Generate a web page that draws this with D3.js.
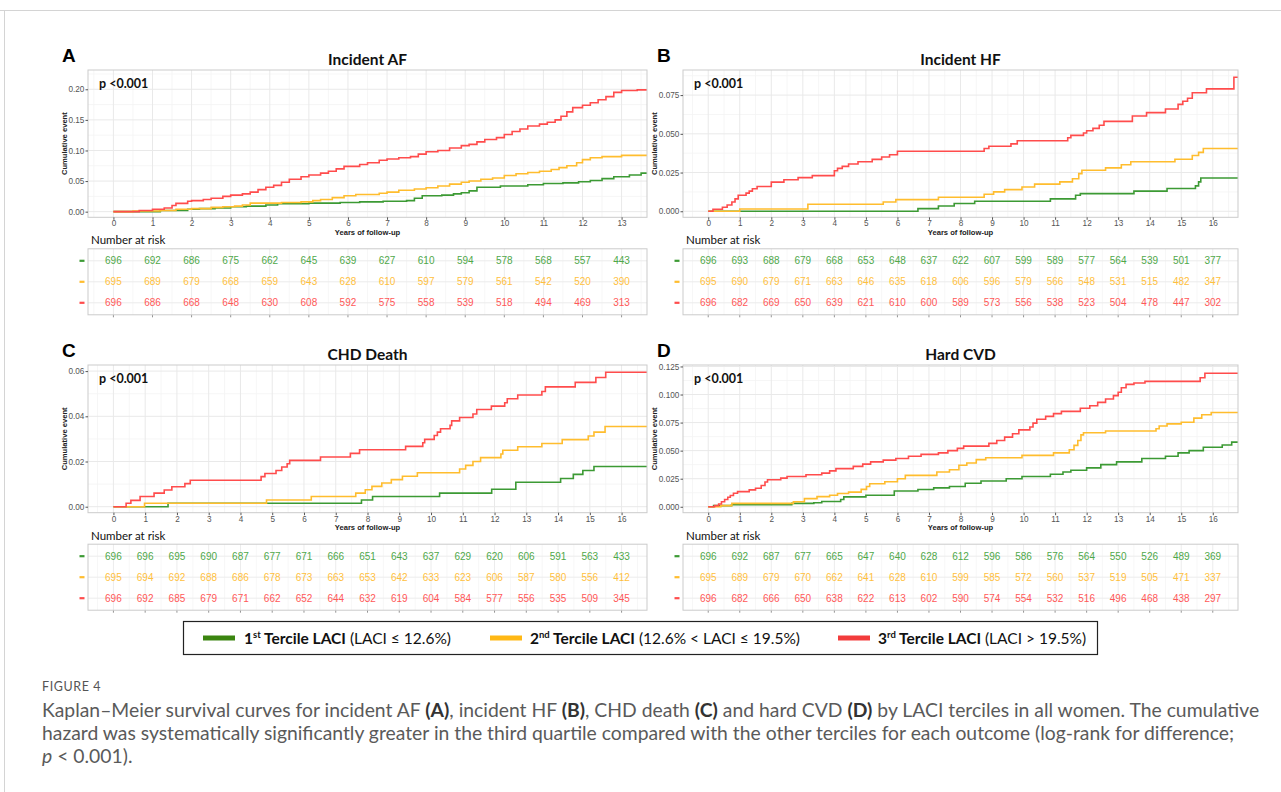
<!DOCTYPE html>
<html>
<head>
<meta charset="utf-8">
<script src="https://cdn.jsdelivr.net/npm/d3@7/dist/d3.min.js"></script>
<style>
body { margin: 0; background: #fff; }
svg { display: block; }
</style>
</head>
<body>
<svg id="fig" width="1281" height="792"></svg>
<script>
// ---- data ----
const ticksAF = [0, 1, 2, 3, 4, 5, 6, 7, 8, 9, 10, 11, 12, 13];
const ticks16 = [0, 1, 2, 3, 4, 5, 6, 7, 8, 9, 10, 11, 12, 13, 14, 15, 16];
const yTicksAF = [0, 0.05, 0.10, 0.15, 0.20];
const yTicksHF = [0, 0.025, 0.05, 0.075];
const yTicksCHD = [0, 0.02, 0.04, 0.06];
const yTicksCVD = [0, 0.025, 0.05, 0.075, 0.10, 0.125];

const terciles = ["1st Tercile LACI", "2nd Tercile LACI", "3rd Tercile LACI"];

// step curves: [time in years, cumulative event after that time]
const afT1 = [[0,0],[1.2,0.002],[1.9,0.004],[2.2,0.005],[2.6,0.006],[3.0,0.008],[3.4,0.009],[3.9,0.011],[4.2,0.013],[5.0,0.014],[5.8,0.015],[6.3,0.016],[6.9,0.017],[7.5,0.018],[7.7,0.022],[7.9,0.026],[8.4,0.027],[8.7,0.029],[8.9,0.031],[9.1,0.034],[9.3,0.04],[9.9,0.042],[10.6,0.044],[11.0,0.046],[11.5,0.047],[11.9,0.049],[12.2,0.051],[12.5,0.054],[12.8,0.057],[13.2,0.06],[13.5,0.063],[14,0.063]];
const afT2 = [[0,0],[0.5,0.001],[1.2,0.002],[1.6,0.004],[2.0,0.005],[2.5,0.007],[2.8,0.008],[3.1,0.009],[3.3,0.011],[3.5,0.014],[4.3,0.015],[4.8,0.016],[5.1,0.018],[5.3,0.02],[5.6,0.023],[5.9,0.026],[6.2,0.028],[6.8,0.03],[7.0,0.032],[7.3,0.035],[7.7,0.037],[8.0,0.039],[8.3,0.042],[8.6,0.045],[8.9,0.048],[9.1,0.05],[9.4,0.053],[9.7,0.055],[10.0,0.059],[10.3,0.062],[10.6,0.064],[10.9,0.066],[11.2,0.069],[11.4,0.072],[11.6,0.075],[11.85,0.08],[12.0,0.085],[12.2,0.088],[12.5,0.09],[13.0,0.092],[14,0.092]];
const afT3 = [[0,0],[0.66,0.002],[1.0,0.004],[1.3,0.006],[1.5,0.01],[1.6,0.0136],[1.9,0.017],[2.0,0.018],[2.3,0.02],[2.5,0.022],[2.8,0.025],[3.0,0.027],[3.3,0.029],[3.5,0.032],[3.7,0.036],[3.9,0.04],[4.1,0.043],[4.3,0.048],[4.5,0.053],[4.8,0.057],[5.0,0.06],[5.3,0.063],[5.5,0.066],[5.7,0.07],[5.9,0.074],[6.3,0.077],[6.5,0.08],[6.8,0.084],[7.0,0.086],[7.3,0.088],[7.6,0.09],[7.8,0.094],[8.0,0.098],[8.3,0.1],[8.6,0.104],[8.9,0.108],[9.1,0.11],[9.3,0.114],[9.5,0.118],[9.8,0.121],[10.0,0.126],[10.2,0.131],[10.4,0.135],[10.6,0.14],[10.9,0.143],[11.1,0.146],[11.3,0.15],[11.45,0.156],[11.6,0.163],[11.75,0.17],[12.0,0.174],[12.2,0.178],[12.4,0.183],[12.6,0.188],[12.8,0.195],[13.0,0.198],[13.4,0.199],[14,0.199]];

const hfT1 = [[0,0],[6.65,0.0017],[7.3,0.0034],[7.8,0.005],[8.45,0.0065],[10.85,0.008],[11.65,0.0103],[11.8,0.0114],[13.5,0.013],[14.55,0.0147],[15.45,0.0164],[15.55,0.019],[15.62,0.0215],[17,0.0215]];
const hfT2 = [[0,0],[1.0,0.0015],[3.16,0.0045],[5.55,0.006],[5.95,0.0075],[7.3,0.009],[8.75,0.011],[9.05,0.0125],[9.4,0.014],[9.95,0.0157],[10.35,0.0175],[11.15,0.019],[11.55,0.021],[11.75,0.0243],[11.85,0.0265],[12.6,0.028],[13.1,0.03],[13.4,0.032],[14.8,0.0336],[15.35,0.036],[15.55,0.038],[15.7,0.0405],[17,0.0405]];
const hfT3 = [[0,0],[0.15,0.0013],[0.45,0.0026],[0.6,0.004],[0.75,0.006],[0.85,0.008],[0.95,0.0103],[1.2,0.0117],[1.3,0.013],[1.4,0.0145],[1.55,0.016],[2.0,0.0188],[2.4,0.0203],[2.85,0.0217],[3.3,0.023],[4.0,0.0262],[4.1,0.0277],[4.25,0.029],[4.45,0.0305],[4.75,0.032],[5.2,0.0335],[5.5,0.035],[5.75,0.0365],[6.0,0.0387],[8.75,0.0405],[8.9,0.042],[9.6,0.0435],[9.8,0.0455],[11.4,0.0475],[11.5,0.049],[11.9,0.0505],[12.0,0.052],[12.2,0.0535],[12.4,0.0555],[12.55,0.058],[13.45,0.0615],[13.9,0.0637],[14.5,0.066],[14.9,0.069],[15.05,0.071],[15.2,0.073],[15.35,0.0765],[15.8,0.079],[16.67,0.0865],[17,0.0865]];

const chdT1 = [[0,0],[1.72,0.0015],[7.81,0.003],[8.16,0.0045],[10.27,0.006],[11.91,0.0077],[12.67,0.0108],[14.08,0.0125],[14.48,0.0143],[14.78,0.016],[15.13,0.0178],[17,0.0178]];
const chdT2 = [[0,0],[0.98,0.0015],[4.82,0.003],[6.23,0.0045],[7.63,0.006],[7.93,0.0075],[8.14,0.009],[8.45,0.0105],[8.75,0.012],[9.1,0.0135],[9.57,0.015],[10.9,0.0167],[11.09,0.0183],[11.32,0.02],[11.56,0.0217],[12.2,0.0233],[12.26,0.025],[12.73,0.0265],[13.49,0.028],[14.13,0.0297],[14.95,0.0313],[15.13,0.033],[15.48,0.0355],[17,0.0355]];
const chdT3 = [[0,0],[0.4,0.0015],[0.55,0.0028],[0.84,0.0045],[1.28,0.006],[1.6,0.0074],[1.84,0.0088],[2.25,0.0102],[2.42,0.0117],[4.65,0.0133],[4.77,0.0147],[5.12,0.016],[5.3,0.0176],[5.47,0.019],[5.55,0.0205],[6.52,0.022],[7.46,0.0236],[7.75,0.0252],[9.2,0.0267],[9.74,0.0283],[9.8,0.0298],[10.1,0.0315],[10.2,0.033],[10.3,0.0345],[10.6,0.036],[10.65,0.038],[10.9,0.0395],[11.32,0.041],[11.44,0.043],[11.9,0.0445],[12.32,0.046],[12.4,0.0478],[12.73,0.0494],[13.49,0.051],[13.6,0.053],[14.54,0.055],[15.19,0.0572],[15.5,0.0595],[17,0.0595]];

const cvdT1 = [[0,0],[0.17,0.001],[0.74,0.0018],[2.65,0.003],[3.35,0.0035],[3.6,0.0047],[4.2,0.0065],[4.3,0.0088],[5.0,0.0103],[5.9,0.014],[6.65,0.0154],[7.15,0.0168],[7.65,0.018],[8.15,0.021],[8.65,0.023],[9.45,0.025],[9.95,0.027],[10.85,0.029],[11.25,0.031],[11.5,0.0325],[12.0,0.0346],[12.45,0.0375],[12.95,0.04],[13.75,0.043],[14.5,0.045],[14.9,0.048],[15.25,0.05],[15.7,0.053],[16.3,0.055],[16.6,0.0576],[17,0.0576]];
const cvdT2 = [[0,0],[0.4,0.001],[0.75,0.003],[2.7,0.0045],[3.05,0.0072],[3.45,0.009],[3.85,0.0102],[4.1,0.0118],[4.45,0.013],[4.85,0.0155],[5.02,0.018],[5.12,0.0205],[5.6,0.0223],[6.0,0.025],[6.25,0.028],[7.25,0.031],[7.65,0.033],[7.95,0.037],[8.2,0.039],[8.5,0.042],[8.8,0.0437],[9.95,0.0458],[10.95,0.048],[11.45,0.0508],[11.6,0.0547],[11.72,0.059],[11.82,0.064],[11.9,0.066],[12.6,0.0675],[14.2,0.0695],[14.3,0.072],[14.55,0.0738],[15.0,0.0753],[15.4,0.079],[15.65,0.082],[15.95,0.084],[17,0.084]];
const cvdT3 = [[0,0],[0.2,0.001],[0.33,0.0025],[0.42,0.0045],[0.52,0.0065],[0.62,0.0085],[0.7,0.01],[0.8,0.012],[0.93,0.0135],[1.3,0.015],[1.5,0.0165],[1.68,0.019],[1.8,0.022],[1.88,0.024],[2.3,0.0255],[2.5,0.027],[3.1,0.0285],[3.6,0.03],[3.85,0.032],[4.05,0.034],[4.6,0.036],[4.9,0.038],[5.15,0.04],[5.55,0.0415],[5.95,0.043],[6.35,0.045],[6.75,0.0467],[7.3,0.048],[7.6,0.05],[7.9,0.052],[8.1,0.054],[8.9,0.0565],[9.15,0.059],[9.4,0.062],[9.65,0.065],[9.85,0.0685],[10.2,0.071],[10.3,0.0745],[10.42,0.078],[10.7,0.0805],[10.95,0.083],[11.2,0.085],[11.8,0.0878],[12.1,0.09],[12.35,0.093],[12.6,0.096],[12.85,0.099],[13.0,0.102],[13.1,0.106],[13.25,0.109],[13.5,0.1103],[13.85,0.1117],[15.6,0.115],[15.75,0.119],[17,0.119]];

// number at risk, one value per x tick
const afRisk1 = [696, 692, 686, 675, 662, 645, 639, 627, 610, 594, 578, 568, 557, 443];
const afRisk2 = [695, 689, 679, 668, 659, 643, 628, 610, 597, 579, 561, 542, 520, 390];
const afRisk3 = [696, 686, 668, 648, 630, 608, 592, 575, 558, 539, 518, 494, 469, 313];
const hfRisk1 = [696, 693, 688, 679, 668, 653, 648, 637, 622, 607, 599, 589, 577, 564, 539, 501, 377];
const hfRisk2 = [695, 690, 679, 671, 663, 646, 635, 618, 606, 596, 579, 566, 548, 531, 515, 482, 347];
const hfRisk3 = [696, 682, 669, 650, 639, 621, 610, 600, 589, 573, 556, 538, 523, 504, 478, 447, 302];
const chdRisk1 = [696, 696, 695, 690, 687, 677, 671, 666, 651, 643, 637, 629, 620, 606, 591, 563, 433];
const chdRisk2 = [695, 694, 692, 688, 686, 678, 673, 663, 653, 642, 633, 623, 606, 587, 580, 556, 412];
const chdRisk3 = [696, 692, 685, 679, 671, 662, 652, 644, 632, 619, 604, 584, 577, 556, 535, 509, 345];
const cvdRisk1 = [696, 692, 687, 677, 665, 647, 640, 628, 612, 596, 586, 576, 564, 550, 526, 489, 369];
const cvdRisk2 = [695, 689, 679, 670, 662, 641, 628, 610, 599, 585, 572, 560, 537, 519, 505, 471, 337];
const cvdRisk3 = [696, 682, 666, 650, 638, 622, 613, 602, 590, 574, 554, 532, 516, 496, 468, 438, 297];

// ---- styles ----
const lineColors = ["#3c9a34", "#ffbd2e", "#ff4c4c"];
const textColors = ["#4fa84a", "#ffbf3d", "#ff5858"];
const swatchColors = ["#3b8510", "#ffb814", "#f23c3c"];
const arial = "'Liberation Sans', Arial, sans-serif";
const calibri = "Lato, 'Open Sans', sans-serif";

const svg = d3.select("#fig");

// outer frame of the figure page
svg.append("line").attr("x1", 0).attr("x2", 1281).attr("y1", 10.5).attr("y2", 10.5)
  .attr("stroke", "#d4d4d4");
svg.append("line").attr("x1", 4.5).attr("x2", 4.5).attr("y1", 10).attr("y2", 792)
  .attr("stroke", "#d4d4d4");

const panels = [
  {letter: "A", title: "Incident AF", left: 88, right: 647, top: 70, bottom: 217.3, yTitle: 24,
   xDomain: [-0.65, 13.65], xTicks: ticksAF, yDomain: [-0.0092, 0.2315], yTicks: yTicksAF, fmt: ".2f",
   curves: [afT1, afT2, afT3], risk: [afRisk1, afRisk2, afRisk3]},
  {letter: "B", title: "Incident HF", left: 683, right: 1238, top: 70, bottom: 217.3, yTitle: 29,
   xDomain: [-0.8, 16.8], xTicks: ticks16, yDomain: [-0.0039, 0.0912], yTicks: yTicksHF, fmt: ".3f",
   curves: [hfT1, hfT2, hfT3], risk: [hfRisk1, hfRisk2, hfRisk3]},
  {letter: "C", title: "CHD Death", left: 88, right: 647, top: 365, bottom: 512.7, yTitle: 24,
   xDomain: [-0.8, 16.8], xTicks: ticks16, yDomain: [-0.00265, 0.0627], yTicks: yTicksCHD, fmt: ".2f",
   curves: [chdT1, chdT2, chdT3], risk: [chdRisk1, chdRisk2, chdRisk3]},
  {letter: "D", title: "Hard CVD", left: 683, right: 1238, top: 365, bottom: 512.7, yTitle: 29,
   xDomain: [-0.8, 16.8], xTicks: ticks16, yDomain: [-0.0053, 0.1263], yTicks: yTicksCVD, fmt: ".3f",
   curves: [cvdT1, cvdT2, cvdT3], risk: [cvdRisk1, cvdRisk2, cvdRisk3]}
];

function minorOf(ticks, domain) {
  const step = ticks[1] - ticks[0];
  const out = [ticks[0] - step / 2];
  ticks.forEach(t => out.push(t + step / 2));
  return out.filter(v => v > domain[0] && v < domain[1]);
}

panels.forEach((p, pi) => {
  const g = svg.append("g");
  const x = d3.scaleLinear().domain(p.xDomain).range([p.left, p.right]);
  const y = d3.scaleLinear().domain(p.yDomain).range([p.bottom, p.top]);
  const w = p.right - p.left, h = p.bottom - p.top;

  // letter and title
  g.append("text").attr("x", p.left - 26).attr("y", p.top - 8)
    .attr("font-family", arial).attr("font-weight", "bold").attr("font-size", 19)
    .text(p.letter);
  g.append("text").attr("x", (p.left + p.right) / 2).attr("y", p.top - 5)
    .attr("text-anchor", "middle").attr("font-family", calibri).attr("font-weight", "bold")
    .attr("font-size", 15.5).attr("fill", "#111").text(p.title);

  // grid
  g.append("rect").attr("x", p.left).attr("y", p.top).attr("width", w).attr("height", h).attr("fill", "#fff");
  const grid = g.append("g");
  minorOf(p.xTicks, p.xDomain).forEach(v => grid.append("line")
    .attr("x1", x(v)).attr("x2", x(v)).attr("y1", p.top).attr("y2", p.bottom)
    .attr("stroke", "#f4f4f4").attr("stroke-width", 0.8));
  minorOf(p.yTicks, p.yDomain).forEach(v => grid.append("line")
    .attr("x1", p.left).attr("x2", p.right).attr("y1", y(v)).attr("y2", y(v))
    .attr("stroke", "#f4f4f4").attr("stroke-width", 0.8));
  p.xTicks.forEach(v => grid.append("line")
    .attr("x1", x(v)).attr("x2", x(v)).attr("y1", p.top).attr("y2", p.bottom)
    .attr("stroke", "#e9e9e9").attr("stroke-width", 1));
  p.yTicks.forEach(v => grid.append("line")
    .attr("x1", p.left).attr("x2", p.right).attr("y1", y(v)).attr("y2", y(v))
    .attr("stroke", "#e9e9e9").attr("stroke-width", 1));

  // curves
  const clipId = "clip" + pi;
  svg.append("clipPath").attr("id", clipId).append("rect")
    .attr("x", p.left).attr("y", p.top).attr("width", w).attr("height", h);
  const line = d3.line().x(d => x(d[0])).y(d => y(d[1])).curve(d3.curveStepAfter);
  p.curves.forEach((c, i) => {
    g.append("path").datum(c).attr("d", line).attr("fill", "none")
      .attr("stroke", lineColors[i]).attr("stroke-width", 1.6)
      .attr("clip-path", `url(#${clipId})`);
  });

  g.append("rect").attr("x", p.left).attr("y", p.top).attr("width", w).attr("height", h)
    .attr("fill", "none").attr("stroke", "#cbcbcb").attr("stroke-width", 1);

  // axes
  const ax = g.append("g").attr("transform", `translate(0,${p.bottom})`)
    .call(d3.axisBottom(x).tickValues(p.xTicks).tickSize(2.5).tickPadding(0.8).tickFormat(d3.format("d")));
  const ay = g.append("g").attr("transform", `translate(${p.left},0)`)
    .call(d3.axisLeft(y).tickValues(p.yTicks).tickSize(2.5).tickPadding(1.2).tickFormat(d3.format(p.fmt)));
  [ax, ay].forEach(a => {
    a.select(".domain").remove();
    a.selectAll(".tick line").attr("stroke", "#555");
    a.selectAll(".tick text").attr("font-family", arial).attr("font-size", 8.2).attr("fill", "#555");
  });

  g.append("text").attr("x", p.left + 11).attr("y", p.top + 18)
    .attr("font-family", calibri).attr("font-weight", "bold").attr("font-size", 12.5)
    .attr("fill", "#111").text("p <0.001");

  g.append("text").attr("transform", `translate(${p.left - p.yTitle},${(p.top + p.bottom) / 2}) rotate(-90)`)
    .attr("text-anchor", "middle").attr("dy", "0.35em").attr("font-family", arial).attr("font-weight", "bold")
    .attr("font-size", 7.6).attr("fill", "#222").text("Cumulative event");
  g.append("text").attr("x", (p.left + p.right) / 2).attr("y", p.bottom + 17.5)
    .attr("text-anchor", "middle").attr("font-family", arial).attr("font-weight", "bold")
    .attr("font-size", 7.6).attr("fill", "#222").text("Years of follow-up");

  // number at risk table
  const tTop = p.bottom + 31.5, tH = 66;
  const rowY = [tTop + 12, tTop + 33, tTop + 54];
  g.append("text").attr("x", p.left + 3).attr("y", p.bottom + 27)
    .attr("font-family", calibri).attr("font-size", 11.5).attr("fill", "#111").text("Number at risk");
  const tg = g.append("g");
  minorOf(p.xTicks, p.xDomain).forEach(v => tg.append("line")
    .attr("x1", x(v)).attr("x2", x(v)).attr("y1", tTop).attr("y2", tTop + tH)
    .attr("stroke", "#f5f5f5").attr("stroke-width", 0.8));
  p.xTicks.forEach(v => tg.append("line")
    .attr("x1", x(v)).attr("x2", x(v)).attr("y1", tTop).attr("y2", tTop + tH)
    .attr("stroke", "#ececec").attr("stroke-width", 1));
  rowY.forEach(ry => tg.append("line")
    .attr("x1", p.left).attr("x2", p.right).attr("y1", ry).attr("y2", ry)
    .attr("stroke", "#ececec").attr("stroke-width", 1));
  p.xTicks.forEach(v => tg.append("line")
    .attr("x1", x(v)).attr("x2", x(v)).attr("y1", tTop + tH).attr("y2", tTop + tH + 2.5)
    .attr("stroke", "#777").attr("stroke-width", 0.8));
  tg.append("rect").attr("x", p.left).attr("y", tTop).attr("width", w).attr("height", tH)
    .attr("fill", "none").attr("stroke", "#cbcbcb").attr("stroke-width", 1);

  p.risk.forEach((row, i) => {
    g.append("line").attr("x1", p.left - 8.5).attr("x2", p.left - 3.5)
      .attr("y1", rowY[i]).attr("y2", rowY[i])
      .attr("stroke", lineColors[i]).attr("stroke-width", 2.2);
    g.selectAll(null).data(row).join("text")
      .attr("x", (d, j) => x(p.xTicks[j])).attr("y", rowY[i]).attr("dy", "0.36em")
      .attr("text-anchor", "middle").attr("font-family", arial).attr("font-size", 10)
      .attr("fill", textColors[i]).text(d => d);
  });
});

// ---- legend ----
const lg = svg.append("g");
lg.append("rect").attr("x", 183.5).attr("y", 621.5).attr("width", 914).attr("height", 33)
  .attr("fill", "#fff").attr("stroke", "#222").attr("stroke-width", 1.2);
const legendItems = [
  {sw: 203, tx: 244, sup: "st", rest: " (LACI \u2264 12.6%)"},
  {sw: 490, tx: 530, sup: "nd", rest: " (12.6% < LACI \u2264 19.5%)"},
  {sw: 838, tx: 878, sup: "rd", rest: " (LACI > 19.5%)"}
];
legendItems.forEach((it, i) => {
  lg.append("line").attr("x1", it.sw).attr("x2", it.sw + 32).attr("y1", 638).attr("y2", 638)
    .attr("stroke", swatchColors[i]).attr("stroke-width", 5);
  const t = lg.append("text").attr("x", it.tx).attr("y", 643.5)
    .attr("font-family", calibri).attr("font-size", 15.5).attr("fill", "#111");
  t.append("tspan").attr("font-weight", "bold").text(terciles[i].charAt(0));
  t.append("tspan").attr("font-weight", "bold").attr("font-size", 9.5).attr("dy", -6).text(it.sup);
  t.append("tspan").attr("font-weight", "bold").attr("dy", 6).text(terciles[i].slice(3));
  t.append("tspan").text(it.rest);
});

// ---- caption ----
svg.append("text").attr("x", 42).attr("y", 690.5)
  .attr("font-family", calibri).attr("font-size", 12.5).attr("letter-spacing", 0.6)
  .attr("fill", "#555").text("FIGURE 4");

const captionLines = [
  [["Kaplan\u2013Meier survival curves for incident AF ", ""], ["(A)", "b"], [", incident HF ", ""], ["(B)", "b"],
   [", CHD death ", ""], ["(C)", "b"], [" and hard CVD ", ""], ["(D)", "b"],
   [" by LACI terciles in all women. The cumulative", ""]],
  [["hazard was systematically significantly greater in the third quartile compared with the other terciles for each outcome (log-rank for difference;", ""]],
  [["p", "i"], [" < 0.001).", ""]]
];
const capTexts = captionLines.map((segs, li) => {
  const t = svg.append("text").attr("x", 42).attr("y", 717 + li * 23.2)
    .attr("font-family", calibri).attr("font-size", 17).attr("fill", "#5a5a5a");
  segs.forEach(s => {
    const sp = t.append("tspan").text(s[0]);
    if (s[1] === "b") sp.attr("font-weight", "bold").attr("fill", "#333");
    if (s[1] === "i") sp.attr("font-style", "italic");
  });
  return t;
});
const w0 = capTexts[0].node().getComputedTextLength();
const capSize = 17 * 1218 / w0;
capTexts.forEach(t => t.attr("font-size", capSize));
</script>
</body>
</html>
